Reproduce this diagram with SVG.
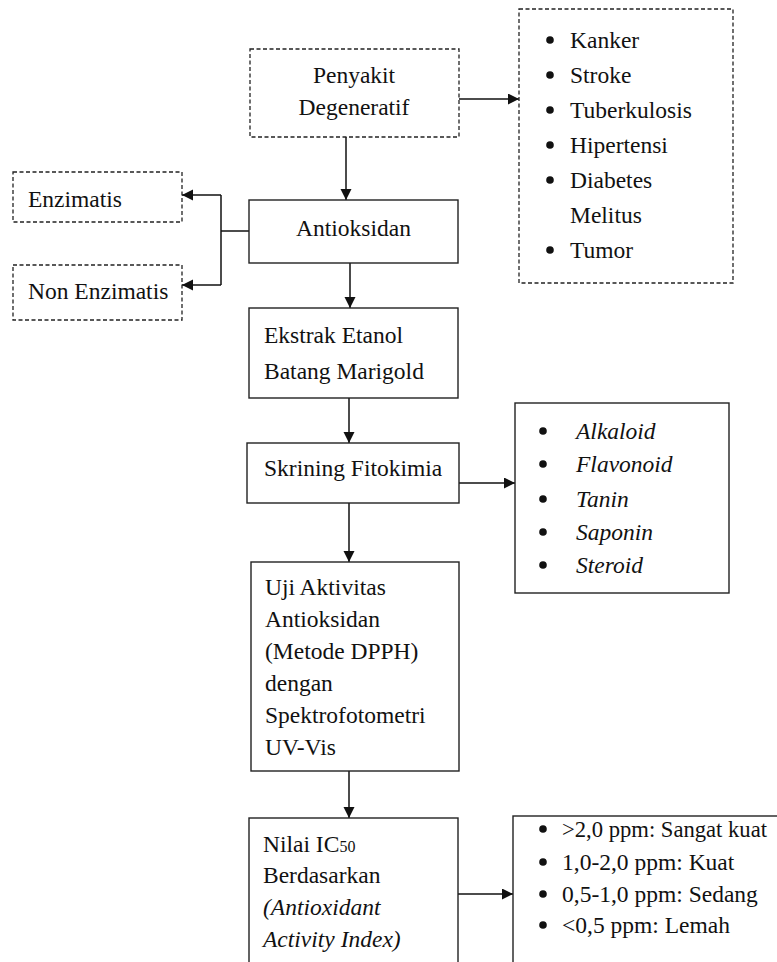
<svg xmlns="http://www.w3.org/2000/svg" width="777" height="962" viewBox="0 0 777 962">
<style>
.box{fill:#fff;stroke:#222;stroke-width:1.4}
.dash{fill:#fff;stroke:#222;stroke-width:1.3;stroke-dasharray:4 2.5}
.dot{fill:#111}
</style>
<rect width="777" height="962" fill="#fff"/>
<defs>
<marker id="ah" markerUnits="userSpaceOnUse" markerWidth="12" markerHeight="12" refX="11" refY="5.5" orient="auto">
<path d="M0,0 L11,5.5 L0,11 z" fill="#111"/>
</marker>
</defs>
<g id="connectors" fill="none" stroke="#111" stroke-width="1.5">
<line x1="346" y1="137" x2="346" y2="200" marker-end="url(#ah)"/>
<line x1="459" y1="99" x2="519" y2="99" marker-end="url(#ah)"/>
<line x1="249" y1="231" x2="221" y2="231"/>
<line x1="221" y1="195" x2="221" y2="285"/>
<line x1="221" y1="195" x2="182" y2="195" marker-end="url(#ah)"/>
<line x1="221" y1="285" x2="182" y2="285" marker-end="url(#ah)"/>
<line x1="350" y1="263" x2="350" y2="308" marker-end="url(#ah)"/>
<line x1="349" y1="398" x2="349" y2="443" marker-end="url(#ah)"/>
<line x1="459" y1="483" x2="515" y2="483" marker-end="url(#ah)"/>
<line x1="349" y1="503" x2="349" y2="562" marker-end="url(#ah)"/>
<line x1="349" y1="771" x2="349" y2="818" marker-end="url(#ah)"/>
<line x1="458" y1="894" x2="513" y2="894" marker-end="url(#ah)"/>
</g>
<g id="nodes" font-family="Liberation Serif" font-size="23.5" fill="#111">
<g id="penyakit">
<rect class="dash" x="250" y="49" width="209" height="88"/>
<text text-anchor="middle" x="354" y="83">Penyakit</text>
<text text-anchor="middle" x="354" y="115">Degeneratif</text>
</g>
<g id="penyakit-list">
<rect class="dash" x="519" y="9" width="214" height="274"/>
<circle class="dot" cx="550" cy="40" r="3.8"/><circle class="dot" cx="550" cy="75" r="3.8"/><circle class="dot" cx="550" cy="110" r="3.8"/><circle class="dot" cx="550" cy="145" r="3.8"/><circle class="dot" cx="550" cy="180" r="3.8"/><circle class="dot" cx="550" cy="250" r="3.8"/>
<text x="570" y="48">Kanker</text>
<text x="570" y="83">Stroke</text>
<text x="570" y="118">Tuberkulosis</text>
<text x="570" y="153">Hipertensi</text>
<text x="570" y="188">Diabetes</text>
<text x="570" y="223">Melitus</text>
<text x="570" y="258">Tumor</text>
</g>
<g id="enzimatis">
<rect class="dash" x="13" y="172" width="169" height="50"/>
<text x="28" y="207">Enzimatis</text>
</g>
<g id="non-enzimatis">
<rect class="dash" x="13" y="265" width="169" height="55"/>
<text x="28" y="299">Non Enzimatis</text>
</g>
<g id="antioksidan">
<rect class="box" x="249" y="200" width="209" height="63"/>
<text text-anchor="middle" x="353.5" y="236">Antioksidan</text>
</g>
<g id="ekstrak">
<rect class="box" x="249" y="308" width="209" height="90"/>
<text x="264" y="343">Ekstrak Etanol</text>
<text x="264" y="379">Batang Marigold</text>
</g>
<g id="skrining">
<rect class="box" x="247" y="443" width="212" height="60"/>
<text x="264" y="476">Skrining Fitokimia</text>
</g>
<g id="senyawa-list">
<rect class="box" x="515" y="403" width="214" height="190"/>
<circle class="dot" cx="543" cy="431" r="3.8"/><circle class="dot" cx="543" cy="464" r="3.8"/><circle class="dot" cx="543" cy="499" r="3.8"/><circle class="dot" cx="543" cy="532" r="3.8"/><circle class="dot" cx="543" cy="565" r="3.8"/>
<text font-style="italic" x="576" y="439">Alkaloid</text>
<text font-style="italic" x="576" y="472">Flavonoid</text>
<text font-style="italic" x="576" y="507">Tanin</text>
<text font-style="italic" x="576" y="540">Saponin</text>
<text font-style="italic" x="576" y="573">Steroid</text>
</g>
<g id="uji">
<rect class="box" x="251" y="562" width="208" height="209"/>
<text x="265" y="595">Uji Aktivitas</text>
<text x="265" y="627">Antioksidan</text>
<text x="265" y="659">(Metode DPPH)</text>
<text x="265" y="691">dengan</text>
<text x="265" y="723">Spektrofotometri</text>
<text x="265" y="755">UV-Vis</text>
</g>
<g id="nilai">
<rect class="box" x="249" y="818" width="209" height="200"/>
<text x="263" y="852">Nilai IC<tspan font-size="16">50</tspan></text>
<text x="263" y="883">Berdasarkan</text>
<text font-style="italic" x="263" y="915">(Antioxidant</text>
<text font-style="italic" x="263" y="947">Activity Index)</text>
</g>
<g id="kategori-list">
<rect class="box" x="513" y="816" width="300" height="200"/>
<circle class="dot" cx="543" cy="829" r="3.8"/><circle class="dot" cx="543" cy="862" r="3.8"/><circle class="dot" cx="543" cy="894" r="3.8"/><circle class="dot" cx="543" cy="925" r="3.8"/>
<text x="562" y="837" textLength="205" lengthAdjust="spacingAndGlyphs">&gt;2,0 ppm: Sangat kuat</text>
<text x="562" y="870">1,0-2,0 ppm: Kuat</text>
<text x="562" y="902">0,5-1,0 ppm: Sedang</text>
<text x="562" y="933">&lt;0,5 ppm: Lemah</text>
</g>
</g>
</svg>
